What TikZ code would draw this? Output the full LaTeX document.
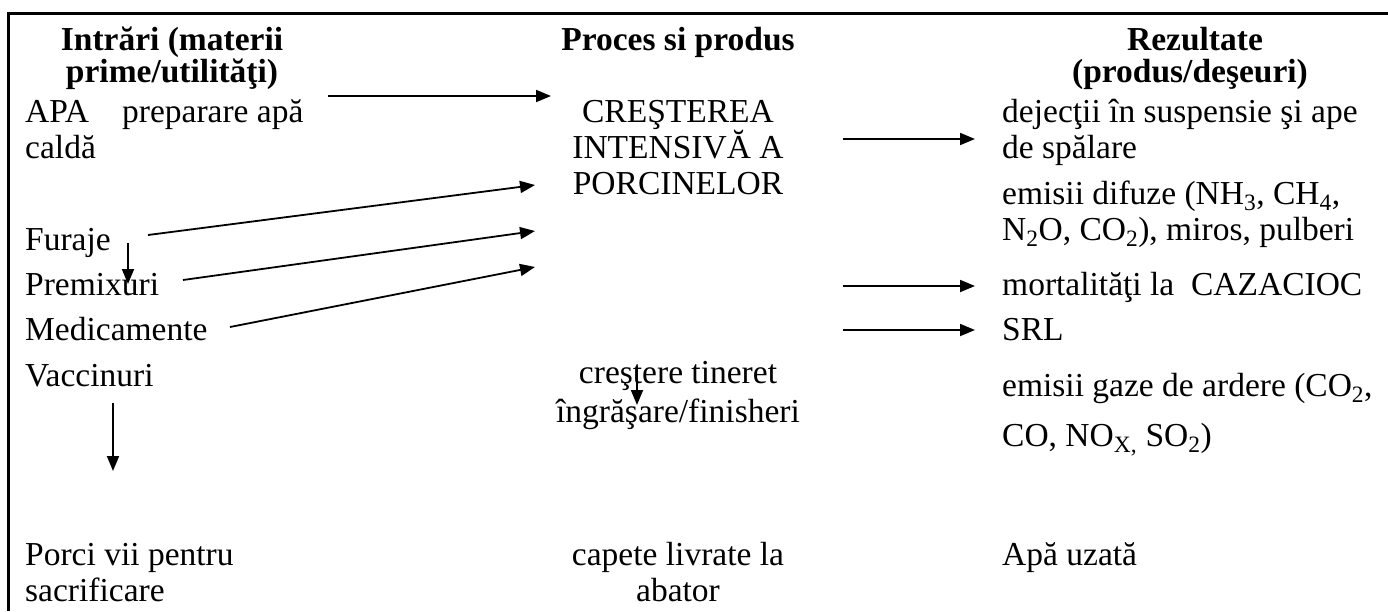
\documentclass[tikz,border=0pt]{standalone}
\usepackage{fontspec}
\setmainfont{Liberation Serif}
\usetikzlibrary{arrows.meta}
\begin{document}
\begin{tikzpicture}[x=1pt,y=-1pt,
  txt/.style={inner sep=0pt, font=\fontsize{33.5}{36}\selectfont, anchor=base west},
  ctxt/.style={inner sep=0pt, font=\fontsize{33.5}{36}\selectfont, anchor=base},
  head/.style={inner sep=0pt, font=\fontsize{33.5}{36}\selectfont\bfseries, anchor=base},
  arr/.style={line width=1.8pt, -{Triangle[length=15pt,width=12pt]}},
]
\useasboundingbox (0,0) rectangle (1388,611);
\fill[white] (0,0) rectangle (1388,611);
\draw[line width=3pt] (8.5,611) -- (8.5,13.5) -- (1388,13.5);

% headers
\node[head] (h1a) at (172,50) {Intrări (materii};
\node[head] (h1b) at (172,82) {prime/utilităţi)};
\node[head] (h2)  at (678,50) {Proces si produs};
\node[head] (h3a) at (1195,50) {Rezultate};
\node[head] (h3b) at (1190,82) {(produs/deşeuri)};

% left column
\node[txt] (apa1) at (25,122) {APA\hspace{33pt}preparare apă};
\node[txt] (apa2) at (25,158) {caldă};
\node[txt] (fur)  at (25,250) {Furaje};
\node[txt] (pre)  at (25,295) {Premixuri};
\node[txt] (med)  at (25,340) {Medicamente};
\node[txt] (vac)  at (25,386) {Vaccinuri};
\node[txt] (por1) at (25,565) {Porci vii pentru};
\node[txt] (por2) at (25,601) {sacrificare};

% middle column
\node[ctxt] (cre1) at (678,122) {CREŞTEREA};
\node[ctxt] (cre2) at (678,158) {INTENSIVĂ A};
\node[ctxt] (cre3) at (678,194) {PORCINELOR};
\node[ctxt] (tin1) at (678,383) {creştere tineret};
\node[ctxt] (tin2) at (678,422) {îngrăşare/finisheri};
\node[ctxt] (cap1) at (678,565) {capete livrate la};
\node[ctxt] (cap2) at (678,601) {abator};

% right column
\node[txt] (dej1) at (1002,122) {dejecţii în suspensie şi ape};
\node[txt] (dej2) at (1002,158) {de spălare};
\node[txt] (dif1) at (1002,204) {emisii difuze (NH\textsubscript{3}, CH\textsubscript{4},};
\node[txt] (dif2) at (1002,240) {N\textsubscript{2}O, CO\textsubscript{2}), miros, pulberi};
\node[txt] (mor)  at (1002,295) {mortalităţi la\ \ CAZACIOC};
\node[txt] (srl)  at (1002,340) {SRL};
\node[txt] (gaz1) at (1002,396) {emisii gaze de ardere (CO\textsubscript{2},};
\node[txt] (gaz2) at (1002,446) {CO, NO\textsubscript{X,} SO\textsubscript{2})};
\node[txt] (apu)  at (1002,565) {Apă uzată};

% arrow end points
\coordinate (a1s) at (328,96);   \coordinate (a1e) at (551,96);
\coordinate (afs) at (148,235);  \coordinate (afe) at (535,185);
\coordinate (aps) at (183,280);  \coordinate (ape) at (535,231);
\coordinate (ams) at (230,327);  \coordinate (ame) at (535,267);
\coordinate (ads) at (128,243);  \coordinate (ade) at (128,284);
\coordinate (avs) at (113,403);  \coordinate (ave) at (113,471);
\coordinate (ats) at (637,366);  \coordinate (ate) at (637,405);
\coordinate (r1s) at (843,139);  \coordinate (r1e) at (975,139);
\coordinate (r2s) at (843,286);  \coordinate (r2e) at (975,286);
\coordinate (r3s) at (843,330);  \coordinate (r3e) at (975,330);

\draw[arr] (a1s) -- (a1e);
\draw[arr] (afs) -- (afe);
\draw[arr] (aps) -- (ape);
\draw[arr] (ams) -- (ame);
\draw[arr] (ads) -- (ade);
\draw[arr] (avs) -- (ave);
\draw[arr] (ats) -- (ate);
\draw[arr] (r1s) -- (r1e);
\draw[arr] (r2s) -- (r2e);
\draw[arr] (r3s) -- (r3e);
\end{tikzpicture}
\end{document}
